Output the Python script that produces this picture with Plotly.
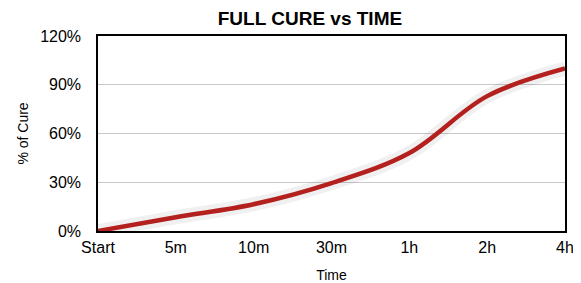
import plotly.graph_objects as go

categories = ["Start", "5m", "10m", "30m", "1h", "2h", "4h"]
cure_pct = [0, 8.5, 16.5, 29.5, 48, 83, 100]
y_ticks = [0, 30, 60, 90, 120]
y_tick_labels = ["0%", "30%", "60%", "90%", "120%"]

FONT = "Liberation Sans, Arial, Helvetica, sans-serif"

fig = go.Figure()
# soft shadow under the line
fig.add_trace(go.Scatter(
    x=categories, y=cure_pct, mode="lines",
    line=dict(color="rgba(0,0,0,0.06)", width=14, shape="spline", smoothing=1.0),
    hoverinfo="skip", showlegend=False))
fig.add_trace(go.Scatter(
    x=categories, y=cure_pct, mode="lines",
    line=dict(color="#b3201e", width=4.5, shape="spline", smoothing=1.0),
    showlegend=False))

# page body has an 8px margin, so the figure is shrunk by 8px to fit the window
fig.update_layout(
    width=573, height=275,
    margin=dict(l=90, r=16, t=28, b=52, autoexpand=False),
    paper_bgcolor="white", plot_bgcolor="white",
    font=dict(family=FONT, color="black"),
    title=dict(text="<b>FULL CURE vs TIME</b>", x=0.527, xanchor="center",
               y=0.964, yanchor="middle", font=dict(size=19, family=FONT)),
)
fig.update_xaxes(
    type="category", range=[0, len(categories) - 1], automargin=False,
    showgrid=False, showline=True, linecolor="black", linewidth=1.5, mirror=True,
    ticks="", tickfont=dict(size=16), ticklabelstandoff=1,
    title=dict(text="Time", font=dict(size=14), standoff=17),
)
fig.update_yaxes(
    range=[0, 120], tickvals=y_ticks, ticktext=y_tick_labels, automargin=False,
    showgrid=True, gridcolor="#c8c8c8", gridwidth=1,
    showline=True, linecolor="black", linewidth=1.5, mirror=True,
    ticks="", tickfont=dict(size=16), ticklabelstandoff=12,
    title=dict(text="% of Cure", font=dict(size=14), standoff=8),
    zeroline=False,
)

fig.write_html("out.html")
